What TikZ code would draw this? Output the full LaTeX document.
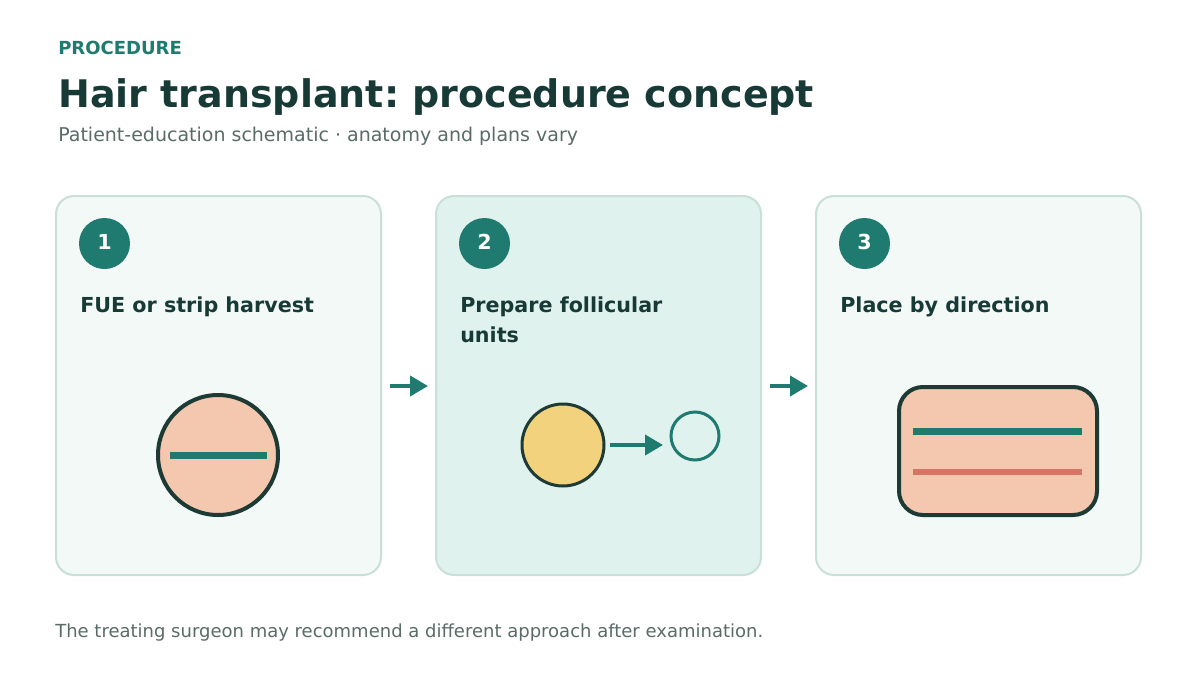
\documentclass[tikz,border=0pt]{standalone}
\usepackage{fontspec}
\setmainfont{DejaVu Sans}
\usetikzlibrary{arrows.meta}
\frenchspacing

\definecolor{teal}{HTML}{1F7A70}
\definecolor{ink}{HTML}{183A36}
\definecolor{muted}{HTML}{5A6B68}
\definecolor{cardfill}{HTML}{F2F9F7}
\definecolor{cardhigh}{HTML}{DFF2ED}
\definecolor{cardline}{HTML}{C8E0D8}
\definecolor{skin}{HTML}{F3C8AE}
\definecolor{graft}{HTML}{F2D27C}
\definecolor{redline}{HTML}{D87465}
\definecolor{outline}{HTML}{1E3A35}

\begin{document}
\begin{tikzpicture}[
    x=0.75pt, y=-0.75pt,
    every node/.style={inner sep=0pt},
    >=Stealth,
    card/.style={draw=cardline, line width=1.5pt, rounded corners=13.5pt,
        minimum width=243.75pt, minimum height=284.25pt},
    badge/.style={circle, fill=teal, minimum size=38.25pt, text=white,
        font=\bfseries\fontsize{15.5}{18}\selectfont},
    cardtitle/.style={anchor=north west, align=left, text=ink,
        font=\bfseries\fontsize{15.5}{22.5}\selectfont},
    flow/.style={->, teal, line width=3pt, shorten <=6.75pt, shorten >=6pt,
        >={Triangle[length=13.5pt, width=15pt]}}
]

% ===== BACKGROUND =====
\useasboundingbox (0,0) rectangle (1200,675);
\fill[white] (0,0) rectangle (1200,675);

% ===== HEADER =====
\node[anchor=base west, text=teal, font=\bfseries\fontsize{13.5}{16}\selectfont]
    (kicker) at (58,54) {PROCEDURE};
\node[anchor=base west, text=ink, font=\bfseries\fontsize{28.5}{33}\selectfont]
    (title) at (58,107) {Hair transplant: procedure concept};
\node[anchor=base west, text=muted, font=\fontsize{14.25}{17}\selectfont]
    (subtitle) at (58,141) {Patient-education schematic · anatomy and plans vary};

% ===== CARDS =====
\node[card, fill=cardfill] (harvest) at (218.5,385.5) {};
\node[card, fill=cardhigh] (prepare) at (598.5,385.5) {};
\node[card, fill=cardfill] (place) at (978.5,385.5) {};

% --- Step badges ---
\node[badge] (n1) at (104.5,243.5) {\raisebox{2.6pt}{1}};
\node[badge] (n2) at (484.5,243.5) {\raisebox{2.6pt}{2}};
\node[badge] (n3) at (864.5,243.5) {\raisebox{2.6pt}{3}};

% --- Step titles ---
\node[cardtitle] (t1) at (80,296.5) {FUE or strip harvest};
\node[cardtitle] (t2) at (460,296.5) {Prepare follicular\\units};
\node[cardtitle] (t3) at (840,296.5) {Place by direction};

% --- Flow arrows between cards ---
\coordinate (a1) at (381,386);
\coordinate (b1) at (436,386);
\coordinate (a2) at (761,386);
\coordinate (b2) at (816,386);
\draw[flow] (a1) -- (b1);
\draw[flow] (a2) -- (b2);

% ===== STEP 1: donor circle with strip =====
\draw[fill=skin, draw=outline, line width=3pt] (218,455) circle (45pt);
\draw[teal, line width=5.25pt] (170,455) -- (267,455);

% ===== STEP 2: graft to unit =====
\node[circle, fill=graft, draw=outline, line width=2.25pt, minimum size=61.5pt]
    (graft) at (563,445) {};
\node[circle, draw=teal, line width=2.25pt, minimum size=36pt]
    (unit) at (695,436) {};
\coordinate (g0) at (610,445);
\coordinate (g1) at (663,445);
\draw[->, teal, line width=3pt, >={Triangle[length=13.5pt, width=15pt]}] (g0) -- (g1);

% ===== STEP 3: recipient area with direction lines =====
\draw[fill=skin, draw=outline, line width=3pt, rounded corners=18pt]
    (899,387) rectangle (1097,515);
\draw[teal, line width=5.25pt] (913,431) -- (1082,431);
\draw[redline, line width=4.5pt] (913,472) -- (1082,472);

% ===== FOOTER =====
\node[anchor=base west, text=muted, font=\fontsize{13.5}{16}\selectfont]
    (footer) at (55,637) {The treating surgeon may recommend a different approach after examination.};

\end{tikzpicture}
\end{document}
